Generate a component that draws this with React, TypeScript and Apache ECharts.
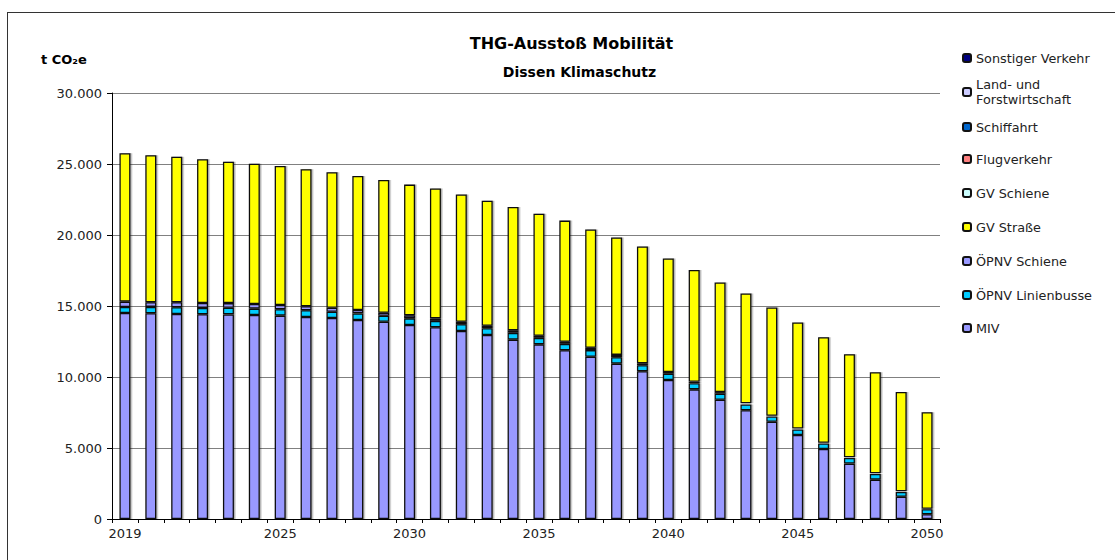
import React, { useEffect, useRef } from "react";
import * as echarts from "echarts";

const years = [
  "2019", "2020", "2021", "2022", "2023", "2024", "2025", "2026", "2027", "2028",
  "2029", "2030", "2031", "2032", "2033", "2034", "2035", "2036", "2037", "2038",
  "2039", "2040", "2041", "2042", "2043", "2044", "2045", "2046", "2047", "2048",
  "2049", "2050",
];

const shownYearLabels = ["2019", "2025", "2030", "2035", "2040", "2045", "2050"];

const miv = [
  14510, 14490, 14440, 14420, 14410, 14370, 14320, 14230, 14150, 14010,
  13890, 13660, 13500, 13240, 12960, 12630, 12300, 11880, 11430, 10940,
  10400, 9790, 9130, 8400, 7660, 6850, 5920, 4930, 3900, 2770,
  1570, 330,
];
const oepnvBus = [
  420, 445, 475, 445, 465, 445, 450, 475, 445, 470,
  425, 470, 450, 470, 480, 480, 455, 455, 465, 455,
  435, 435, 425, 430, 405, 365, 385, 385, 400, 400,
  340, 355,
];
const oepnvSchiene = [
  375, 330, 350, 350, 330, 330, 305, 280, 280, 235,
  210, 210, 180, 180, 170, 180, 150, 150, 170, 160,
  130, 130, 110, 110, 90, 60, 60, 60, 50, 50,
  40, 40,
];
const gvStrasse = [
  10450, 10350, 10250, 10120, 9950, 9880, 9790, 9650, 9540, 9440,
  9350, 9210, 9140, 8960, 8810, 8690, 8600, 8530, 8320, 8270,
  8220, 7990, 7870, 7720, 7730, 7620, 7480, 7420, 7250, 7110,
  6990, 6790,
];
const gvSchiene = years.map(() => 0);
const flugverkehr = years.map(() => 0);
const schiffahrt = years.map(() => 0);
const landForst = years.map(() => 0);
const sonstiger = years.map(() => 0);

const yTicks = [0, 5000, 10000, 15000, 20000, 25000, 30000];

const seriesDefs = [
  { name: "MIV", data: miv, color: "#9999ff", legendY: 328 },
  { name: "ÖPNV Linienbusse", data: oepnvBus, color: "#00ccff", legendY: 295 },
  { name: "ÖPNV Schiene", data: oepnvSchiene, color: "#9999ff", legendY: 261 },
  { name: "GV Straße", data: gvStrasse, color: "#ffff00", legendY: 227 },
  { name: "GV Schiene", data: gvSchiene, color: "#ccffff", legendY: 193 },
  { name: "Flugverkehr", data: flugverkehr, color: "#ff8080", legendY: 159 },
  { name: "Schiffahrt", data: schiffahrt, color: "#0066cc", legendY: 127 },
  { name: "Land- und Forstwirtschaft", data: landForst, color: "#ccccff", legendY: 92 },
  { name: "Sonstiger Verkehr", data: sonstiger, color: "#000080", legendY: 58 },
];

const fmt = (v: number) => String(v).replace(/\B(?=(\d{3})+(?!\d))/g, ".");

export default function App() {
  const ref = useRef<HTMLDivElement>(null);
  useEffect(() => {
    if (!ref.current) return;
    const chart = echarts.init(ref.current, undefined, { renderer: "svg" });
    const font = "DejaVu Sans, Verdana, sans-serif";
    const LH = 15;
    const legends = seriesDefs.map((s) => {
      const isLand = s.name === "Land- und Forstwirtschaft";
      return {
        data: [s.name],
        orient: "vertical",
        left: 962,
        top: isLand ? s.legendY - (LH * 3) / 2 : s.legendY - LH / 2,
        padding: 0,
        itemWidth: 8,
        itemHeight: 8,
        selectedMode: false,
        formatter: isLand ? () => "Land- und\nForstwirtschaft" : undefined,
        itemStyle: { shadowColor: "rgba(0,0,0,0)", shadowOffsetX: 0 },
        textStyle: {
          fontFamily: font,
          fontSize: 12.8,
          color: "#222",
          lineHeight: LH,
          padding: isLand ? [LH, 0, 0, 0] : 0,
        },
      };
    });
    chart.setOption({
      animation: false,
      backgroundColor: "#fff",
      title: [
        {
          text: "THG-Ausstoß Mobilität",
          left: 571.5,
          top: 35,
          padding: 0,
          textAlign: "center",
          textStyle: { fontFamily: font, fontSize: 16, fontWeight: "bold", color: "#000" },
        },
        {
          text: "Dissen Klimaschutz",
          left: 579.5,
          top: 65,
          padding: 0,
          textAlign: "center",
          textStyle: { fontFamily: font, fontSize: 14, fontWeight: "bold", color: "#000" },
        },
        {
          text: "t CO₂e",
          left: 41,
          top: 53,
          padding: 0,
          textStyle: { fontFamily: font, fontSize: 13, fontWeight: "bold", color: "#000" },
        },
      ],
      legend: legends,
      grid: { left: 112, right: 175, top: 93, bottom: 41, containLabel: false },
      xAxis: {
        type: "category",
        data: years,
        boundaryGap: true,
        axisLine: { lineStyle: { color: "#000", width: 1 } },
        axisTick: { show: true, interval: 0, length: 4, lineStyle: { color: "#000" } },
        axisLabel: {
          interval: (_i: number, v: string) => shownYearLabels.includes(v),
          fontFamily: font,
          fontSize: 13,
          color: "#222",
          margin: 8,
        },
        splitLine: { show: false },
      },
      yAxis: {
        type: "value",
        min: yTicks[0],
        max: yTicks[yTicks.length - 1],
        interval: 5000,
        axisLine: { show: true, lineStyle: { color: "#000", width: 1 } },
        axisTick: { show: true, length: 5, lineStyle: { color: "#000" } },
        axisLabel: {
          formatter: (v: number) => fmt(v),
          fontFamily: font,
          fontSize: 13,
          color: "#222",
          margin: 10,
        },
        splitLine: { show: true, lineStyle: { color: "#808080", width: 1 } },
      },
      graphic: [
        { type: "line", shape: { x1: 7, y1: 12.5, x2: 1115, y2: 12.5 }, style: { stroke: "#333", lineWidth: 1 } },
        { type: "line", shape: { x1: 7.5, y1: 12, x2: 7.5, y2: 560 }, style: { stroke: "#333", lineWidth: 1 } },
      ],
      series: seriesDefs.map((s) => ({
        name: s.name,
        type: "bar",
        stack: "total",
        barWidth: 11,
        data: s.data,
        itemStyle: {
          color: s.color,
          borderColor: "#111",
          borderWidth: 1.3,
          shadowColor: "rgba(0,0,0,0.3)",
          shadowOffsetX: 1.5,
          shadowOffsetY: 0,
          shadowBlur: 0,
        },
      })),
    });
    return () => chart.dispose();
  }, []);
  return <div ref={ref} style={{ width: 1115, height: 560, position: "absolute", left: 0, top: 0 }} />;
}
